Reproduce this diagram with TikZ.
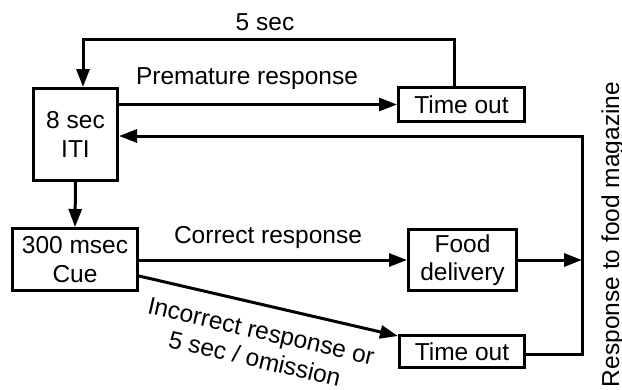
\documentclass[tikz,border=0pt]{standalone}
\usepackage{fontspec}
\setmainfont{Liberation Sans}
\usetikzlibrary{arrows.meta}
\begin{document}
\begin{tikzpicture}[x=1pt,y=-1pt,
  every node/.style={font=\fontsize{24.5}{28.5}\selectfont, inner sep=0pt},
  box/.style={draw, line width=3pt, align=center},
  conn/.style={line width=3pt},
  arr/.style={conn, -{Triangle[length=18pt,width=13pt]}},
  lbl/.style={align=center}]
\useasboundingbox (0,0) rectangle (622,389);
% boxes
\node[box, minimum width=84pt, minimum height=92pt] (iti) at (75.5,134.5) {8 sec\\ITI};
\node[box, minimum width=126pt, minimum height=34pt] (to1) at (461.5,104.5) {Time out};
\node[box, minimum width=125pt, minimum height=62pt] (cue) at (75,259.5) {300 msec\\Cue};
\node[box, minimum width=108pt, minimum height=61pt] (food) at (462.5,260) {Food\\delivery};
\node[box, minimum width=125pt, minimum height=32pt] (to2) at (462,351.5) {Time out};
% coordinates
\coordinate (tr) at (454,39);
\coordinate (tl) at (83,39);
\coordinate (rt) at (582,136);
\coordinate (rb) at (582,354);
% connectors
\draw[arr] ([xshift=-7.5pt]to1.north) -- (tr) -- (tl) -- (tl |- iti.north);
\draw[arr] (iti.east |- to1.west) -- (to1.west);
\draw[arr] (to2.east |- rb) -- (rb) -- (rt) -- (rt -| iti.east);
\draw[arr] (food.east) -- (rt |- food.east);
\draw[arr] (iti.south) -- (cue.north);
\draw[arr] (cue.east |- food.west) -- (food.west);
\draw[arr] ([yshift=-16.5pt]cue.east) -- ([yshift=-2pt]to2.north west);
% labels
\node[lbl] (l5) at (265,22) {5 sec};
\node[lbl] (lp) at (247,79) {Premature response};
\node[lbl] (lc) at (268,237) {Correct response};
\node[lbl, rotate=-13] (li) at (258,345) {Incorrect response or\\5 sec / omission};
\node[lbl, rotate=90, anchor=base] (lr) at (619,234.5) {Response to food magazine};
\end{tikzpicture}
\end{document}
